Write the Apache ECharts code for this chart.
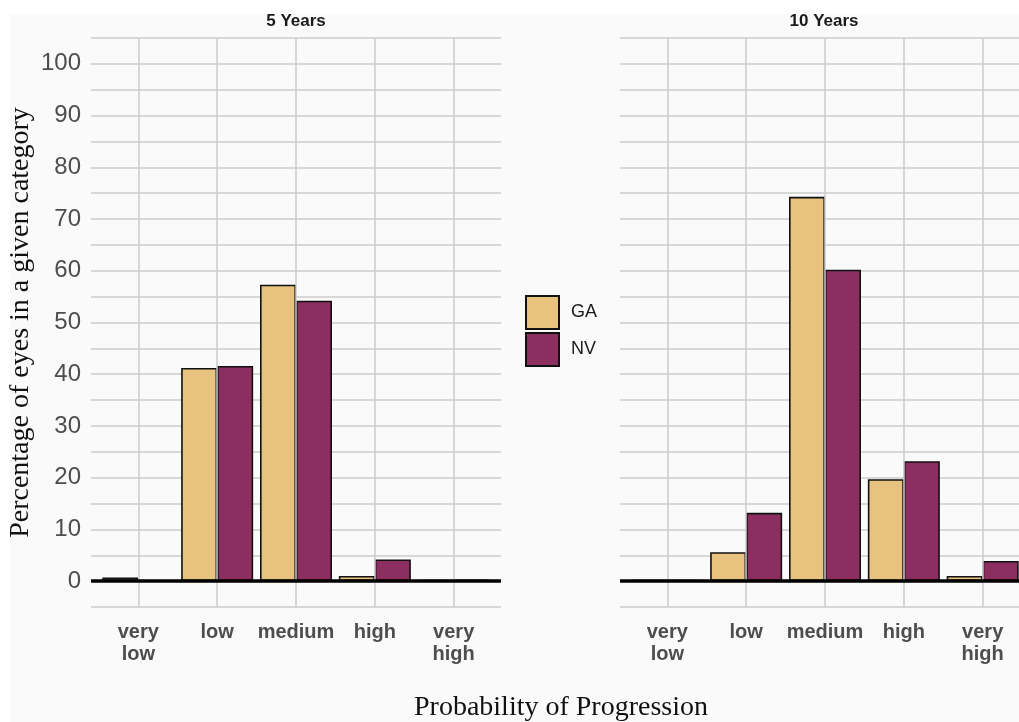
<!DOCTYPE html>
<html>
<head>
<meta charset="utf-8">
<script src="https://cdn.jsdelivr.net/npm/echarts@6/dist/echarts.min.js"></script>
<style>
  html, body { margin: 0; padding: 0; background: #fff; }
  #chart { width: 1019px; height: 722px; }
</style>
</head>
<body>
<div id="chart"></div>
<script>
// Progression-probability categories (x axis of both panels)
const categories = ['very\nlow', 'low', 'medium', 'high', 'very\nhigh'];
const groups = ['GA', 'NV'];
const panelTitles = ['5 Years', '10 Years'];

// Percentage of eyes per category, 5-year horizon
const ga5 = [0.7, 41.2, 57.3, 1.0, 0.2];
const nv5 = [0.1, 41.6, 54.2, 4.2, 0.3];
// Percentage of eyes per category, 10-year horizon
const ga10 = [0.2, 5.6, 74.3, 19.7, 1.0];
const nv10 = [0.2, 13.2, 60.2, 23.2, 3.9];

const yTicks = [0, 10, 20, 30, 40, 50, 60, 70, 80, 90, 100];

// The x scale runs in fifths of a category: each category is 5 units wide and
// the panel keeps 3 units of padding on either side (0.6 of a category).
const UNIT = 5, PAD = 3;
const xPos = categories.map((c, i) => PAD + i * UNIT);
const xMax = PAD * 2 + (categories.length - 1) * UNIT;

const colors = { GA: '#e8c27f', NV: '#8c2f60' };
const gridColor = '#cbcbcb';
const textGrey = '#4d4d4d';

const chart = echarts.init(document.getElementById('chart'));

function yAxis(gridIndex, showLabels) {
  return {
    type: 'value', gridIndex: gridIndex,
    min: -5, max: 105, interval: 5,
    axisLine: { show: false }, axisTick: { show: false },
    axisLabel: {
      show: showLabels, margin: 10, fontSize: 24, color: textGrey,
      fontFamily: 'Liberation Sans',
      formatter: v => (yTicks.indexOf(v) >= 0 ? String(v) : '')
    },
    splitLine: { show: true, lineStyle: { color: gridColor, width: 1.5 } },
    name: showLabels ? 'Percentage of eyes in a given category' : '',
    nameLocation: 'middle', nameGap: 56,
    nameTextStyle: { fontFamily: 'Liberation Serif', fontSize: 28, color: '#111' }
  };
}

function xAxis(gridIndex) {
  return {
    type: 'value', gridIndex: gridIndex,
    min: 0, max: xMax, interval: 1,
    axisLine: { show: false }, axisTick: { show: false },
    axisLabel: {
      margin: 14, fontSize: 20, fontWeight: 'bold', color: textGrey,
      fontFamily: 'Liberation Sans', lineHeight: 22,
      showMinLabel: true, showMaxLabel: true,
      formatter: v => {
        const i = xPos.indexOf(Math.round(v));
        return (i >= 0 && Math.abs(v - xPos[i]) < 1e-6) ? categories[i] : '';
      }
    },
    splitLine: { show: false }
  };
}

function barSeries(name, values, idx) {
  return {
    name: name, type: 'bar', xAxisIndex: idx, yAxisIndex: idx,
    data: values.map((v, i) => [xPos[i], v]),
    barWidth: 36, barGap: '0%', z: 3,
    itemStyle: { color: colors[name], borderColor: '#111', borderWidth: 1.6 },
    emphasis: { disabled: true }
  };
}

// vertical grid lines at category centres, drawn beneath the bars
function gridLineSeries(idx) {
  return {
    type: 'line', xAxisIndex: idx, yAxisIndex: idx, data: [], z: 1, silent: true,
    markLine: {
      silent: true, symbol: 'none', animation: false, label: { show: false },
      lineStyle: { color: gridColor, width: 1.5, type: 'solid' },
      data: xPos.map(x => ({ xAxis: x }))
    }
  };
}

// heavy baseline at zero, drawn over the bar feet
function zeroLineSeries(idx) {
  return {
    type: 'line', xAxisIndex: idx, yAxisIndex: idx, data: [], z: 5, silent: true,
    markLine: {
      silent: true, symbol: 'none', animation: false, label: { show: false },
      lineStyle: { color: '#000', width: 3.5, type: 'solid' },
      data: [{ yAxis: 0 }]
    }
  };
}

const option = {
  backgroundColor: '#fafafa',
  animation: false,
  grid: [
    { left: 91, width: 410, top: 38, bottom: 115, outerBoundsMode: 'none' },
    // the right panel runs past the right edge of the canvas
    { left: 620, width: 410, top: 38, bottom: 115, outerBoundsMode: 'none' }
  ],
  xAxis: [xAxis(0), xAxis(1)],
  yAxis: [yAxis(0, true), yAxis(1, false)],
  legend: {
    data: groups, orient: 'vertical', left: 525, top: 295, padding: 0,
    icon: 'rect', itemWidth: 33, itemHeight: 33, itemGap: 2,
    textStyle: { fontSize: 18, color: '#1a1a1a', fontFamily: 'Liberation Sans', padding: [0, 0, 0, 7] },
    selectedMode: false
  },
  graphic: [
    { type: 'rect', left: 0, top: 0, shape: { width: 1019, height: 14 }, style: { fill: '#fff' }, silent: true },
    { type: 'rect', left: 0, top: 0, shape: { width: 10, height: 722 }, style: { fill: '#fff' }, silent: true },
    { type: 'text', x: 296, y: 21, style: { text: panelTitles[0], textAlign: 'center', textVerticalAlign: 'middle',
      font: 'bold 17px "Liberation Sans"', fill: '#1a1a1a' } },
    { type: 'text', x: 824, y: 21, style: { text: panelTitles[1], textAlign: 'center', textVerticalAlign: 'middle',
      font: 'bold 17px "Liberation Sans"', fill: '#1a1a1a' } },
    { type: 'text', x: 561, y: 708, style: { text: 'Probability of Progression', textAlign: 'center', textVerticalAlign: 'middle',
      font: '28px "Liberation Serif"', fill: '#111' } }
  ],
  series: [
    gridLineSeries(0), gridLineSeries(1),
    barSeries('GA', ga5, 0), barSeries('NV', nv5, 0),
    barSeries('GA', ga10, 1), barSeries('NV', nv10, 1),
    zeroLineSeries(0), zeroLineSeries(1)
  ]
};

chart.setOption(option);
</script>
</body>
</html>
